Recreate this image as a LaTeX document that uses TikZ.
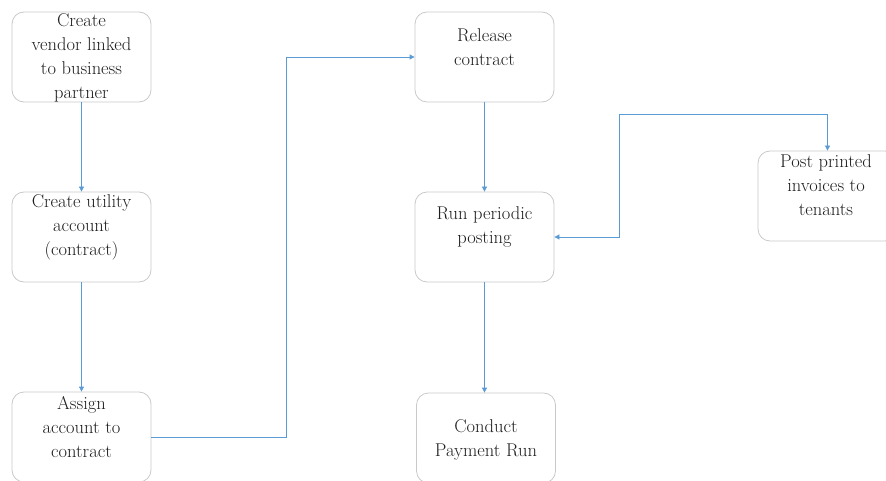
\documentclass[tikz,border=0pt]{standalone}
\usetikzlibrary{arrows.meta}
\definecolor{flowblue}{HTML}{5B9BD5}
\definecolor{boxgray}{HTML}{C9C9C9}
\definecolor{txtgray}{HTML}{1E1E1E}
\begin{document}
\begin{tikzpicture}[
    x=1pt, y=-1pt,
    font=\fontsize{18.5}{24}\selectfont,
    >={Triangle[length=5pt,width=5pt]},
    box/.style={
        rectangle,
        rounded corners=12pt,
        draw=boxgray,
        line width=0.8pt,
        minimum width=139pt,
        minimum height=90pt,
        inner sep=0pt
    },
    txt/.style={
        align=center,
        text=txtgray,
        inner sep=0pt
    },
    flow/.style={
        draw=flowblue,
        line width=0.8pt,
        ->
    }
]

\useasboundingbox (0,0) rectangle (886,481);
\clip (0,0) rectangle (886,481);

% left column
\node[box] (vendor) at (81.5,57) {};
\node[txt] (vendor-t) at (81.5,58) {Create\\vendor linked\\to business\\partner};

\node[box] (utility) at (81.5,237) {};
\node[txt] (utility-t) at (81.5,227) {Create utility\\account\\(contract)};

\node[box] (assign) at (81.5,437) {};
\node[txt] (assign-t) at (81.5,427) {Assign\\account to\\contract};

% middle column
\node[box] (release) at (484.5,57) {};
\node[txt] (release-t) at (484.5,47) {Release\\contract};

\node[box] (run) at (484.5,237) {};
\node[txt] (run-t) at (484.5,227) {Run periodic\\posting};

\node[box] (conduct) at (486,438) {};
\node[txt] (conduct-t) at (486,440) {Conduct\\Payment Run};

% right
\node[box] (post) at (827.5,196) {};
\node[txt] (post-t) at (826,185) {Post printed\\invoices to\\tenants};

% connectors
\draw[flow] (vendor.south) -- (utility.north);
\draw[flow] (utility.south) -- (assign.north);
\draw[flow] (assign.east) -- ++(135,0) |- (release.west);
\draw[flow] (release.south) -- (run.north);
\draw[flow] (run.south) -- (run.south |- conduct.north);
\draw[flow, <->] (run.east) -- ++(65,0) |- ([yshift=36pt]post.north) -- (post.north);

\end{tikzpicture}
\end{document}
